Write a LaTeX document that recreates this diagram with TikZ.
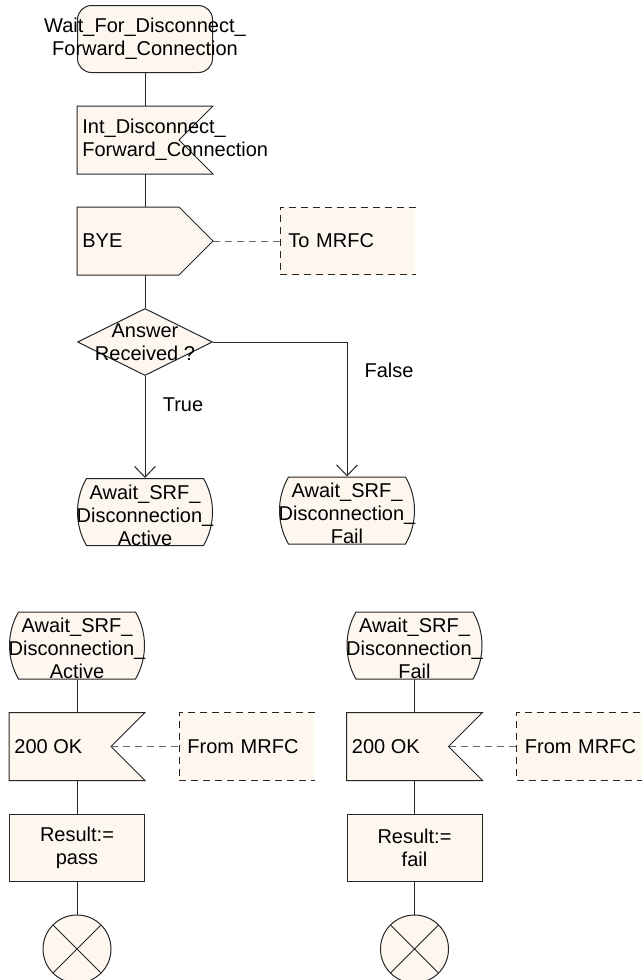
\documentclass[tikz,border=0pt]{standalone}
\usepackage{fontspec}
\setmainfont{Liberation Sans}
\usetikzlibrary{shapes.geometric,shapes.misc,arrows.meta,positioning,backgrounds}
\definecolor{sdlfill}{RGB}{253,247,240}

\begin{document}
\begin{tikzpicture}[
    x=0.5pt, y=-0.5pt,
    font=\fontsize{10}{11.5}\selectfont,
    node distance=16.5pt,
    symline/.style={draw=black!85, fill=sdlfill, line width=0.5pt},
    sym/.style={symline, inner sep=0pt, minimum width=67.5pt, minimum height=33.5pt},
    ctxt/.style={align=center, inner sep=0pt},
    ltxt/.style={align=left, anchor=west, inner sep=0pt, xshift=2.5pt},
    state/.style={sym, rounded rectangle, rounded rectangle arc length=60},
    signalbox/.style={sym, rectangle, draw=none, fill=none},
    decision/.style={sym, diamond},
    task/.style={sym, rectangle, align=center},
    comment/.style={fill=sdlfill, minimum width=67.5pt, minimum height=33.5pt, inner xsep=4pt, text width=59.5pt, align=left},
    stopsym/.style={symline, circle, minimum size=34pt, inner sep=0pt,
        path picture={\draw[black!85, line width=0.5pt] (path picture bounding box.north west) -- (path picture bounding box.south east)
            (path picture bounding box.north east) -- (path picture bounding box.south west);}},
    flow/.style={draw=black!85, line width=0.5pt},
    arr/.style={flow, -{Straight Barb[length=5.5pt, width=10.5pt]}},
    link/.style={draw=black!60, line width=0.5pt, dash pattern=on 3.5pt off 2.5pt},
    cmtline/.style={draw=black!85, line width=0.5pt, dash pattern=on 3.5pt off 2.5pt}
]
\useasboundingbox (0,0) rectangle (642,980);

% upper process
\node[sym, rounded corners=7pt, label={[ctxt]center:Wait\_For\_Disconnect\_\\Forward\_Connection}] (wait) at (145,39) {};
\node[signalbox, below=of wait, label={[ltxt]west:Int\_Disconnect\_\\Forward\_Connection}] (intdisc) {};
\node[signalbox, below=of intdisc, label={[ltxt]west:BYE}] (bye) {};
\node[comment, right=33.5pt of bye] (tomrfc) {To MRFC};
\node[decision, below=of bye, label={[ctxt]center:Answer\\Received ?}] (answer) {};
\node[state, below=51pt of answer, label={[ctxt, yshift=-1.5pt]center:Await\_SRF\_\\Disconnection\_\\Active}] (active) {};
\node[state, label={[ctxt, yshift=-1.5pt]center:Await\_SRF\_\\Disconnection\_\\Fail}] (fail) at (347,510.5) {};
\node (truelbl) at (183,405) {True};
\node (falselbl) at (389,370) {False};

\draw[flow] (wait.south) -- (intdisc.north);
\draw[flow] (intdisc.south) -- (bye.north);
\draw[flow] (bye.south) -- (answer.north);
\draw[arr] (answer.south) -- (active.north);
\draw[arr] (answer.east) -| (fail.north);
\draw[link] (bye.east) -- (tomrfc.west);

% lower left
\node[state, label={[ctxt, yshift=-1.5pt]center:Await\_SRF\_\\Disconnection\_\\Active}] (active2) at (77,645.5) {};
\node[signalbox, below=of active2, label={[ltxt]west:200 OK}] (okpass) {};
\node[comment, right=17pt of okpass] (frompass) {From MRFC};
\node[task, below=of okpass] (respass) {Result:=\\pass};
\node[stopsym, below=of respass] (stoppass) {};

% lower right
\node[state, label={[ctxt, yshift=-1.5pt]center:Await\_SRF\_\\Disconnection\_\\Fail}] (fail2) at (414.5,645.5) {};
\node[signalbox, below=of fail2, label={[ltxt]west:200 OK}] (okfail) {};
\node[comment, right=17pt of okfail] (fromfail) {From MRFC};
\node[task, below=of okfail] (resfail) {Result:=\\fail};
\node[stopsym, below=of resfail] (stopfail) {};

\foreach \i/\j in {active2/okpass, okpass/respass, respass/stoppass, fail2/okfail, okfail/resfail, resfail/stopfail}
  \draw[flow] (\i.south) -- (\j.north);
\draw[link] ([xshift=-17pt]okpass.east) -- (frompass.west);
\draw[link] ([xshift=-17pt]okfail.east) -- (fromfail.west);

\foreach \c in {tomrfc, frompass, fromfail}
  \draw[cmtline] (\c.north east) -- (\c.north west) -- (\c.south west) -- (\c.south east);

% signal outlines behind their texts
\begin{scope}[on background layer]
\foreach \n in {intdisc, okpass, okfail}
  \filldraw[symline] (\n.north west) -- (\n.north east) -- ([xshift=-17pt]\n.east) -- (\n.south east) -- (\n.south west) -- cycle;
\filldraw[symline] (bye.north west) -- ([xshift=-17pt]bye.north east) -- (bye.east) -- ([xshift=-17pt]bye.south east) -- (bye.south west) -- cycle;
\end{scope}
\end{tikzpicture}
\end{document}
